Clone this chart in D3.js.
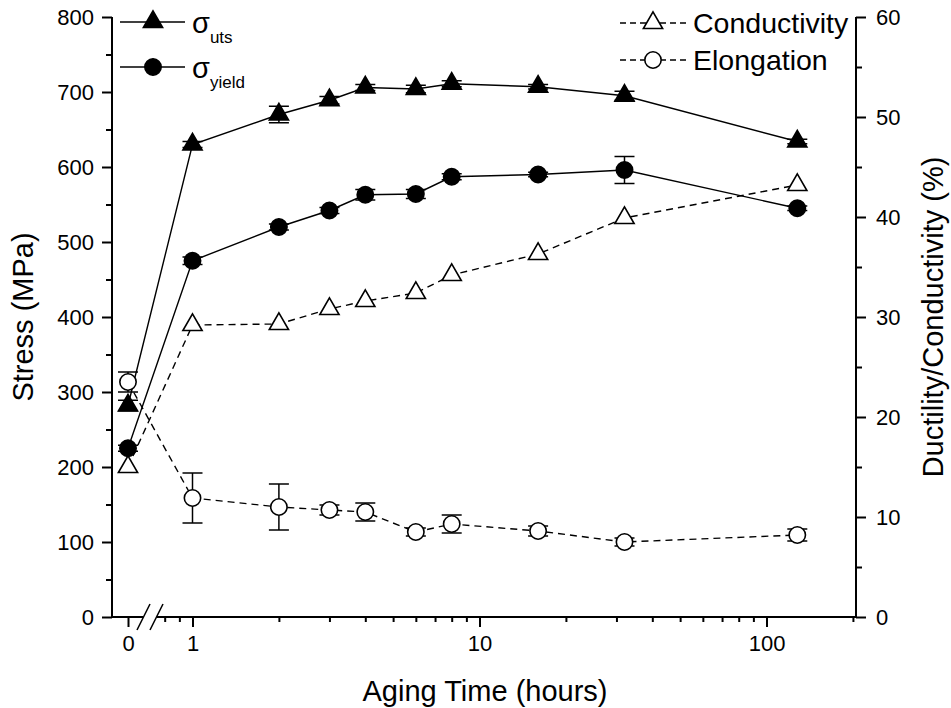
<!DOCTYPE html>
<html>
<head>
<meta charset="utf-8">
<script src="https://cdn.jsdelivr.net/npm/d3@7"></script>
<style>
  body { margin: 0; background: #fff; }
  svg { display: block; font-family: "Liberation Sans", Arial, sans-serif; }
</style>
</head>
<body>
<svg id="chart" width="951" height="708"></svg>
<script>
// data
const hours = [0, 1, 2, 3, 4, 6, 8, 16, 32, 128];
const utsVals = [282, 630, 670, 689, 706, 704, 711, 707, 695, 634];
const utsErr = [7, 4, 11, 5, 4, 5, 4, 3, 6, 3];
const yieldVals = [225, 475, 520, 542, 563, 564, 587, 590, 596, 545];
const yieldErr = [4, 5, 4, 4, 7, 6, 4, 3, 18, 3];
const condVals = [15.0, 29.2, 29.3, 30.8, 31.6, 32.4, 34.2, 36.3, 39.9, 43.2];
const elongVals = [23.5, 11.9, 11.0, 10.7, 10.5, 8.5, 9.3, 8.6, 7.5, 8.2];
const elongErr = [1.0, 2.5, 2.3, 0.5, 0.9, 0.4, 0.9, 0.5, 0.4, 0.6];

const stressTicks = [0, 100, 200, 300, 400, 500, 600, 700, 800];
const stressMinor = [50, 150, 250, 350, 450, 550, 650, 750];
const pctTicks = [0, 10, 20, 30, 40, 50, 60];
const pctMinor = [5, 15, 25, 35, 45, 55];
const timeTicks = [1, 10, 100];
const timeMinor = [0.8, 0.9, 2, 3, 4, 5, 6, 7, 8, 9, 20, 30, 40, 50, 60, 70, 80, 90, 200];

const svg = d3.select('#chart');

const yL = d3.scaleLinear().domain([0, 800]).range([617, 17]);
const yR = d3.scaleLinear().domain([0, 60]).range([617, 17]);
const xLog = d3.scaleLog().domain([1, 205]).range([192.5, 856]);
const xZero = d3.scaleLinear().domain([-1, 1]).range([112, 144]);

function xPos(h) {
  return h === 0 ? xZero(0) : xLog(h);
}

const plotLeft = 112, plotRight = 856, plotBottom = 617, plotTop = 17;

// axes
function styleAxis(g) {
  g.select('.domain').remove();
  g.selectAll('line').attr('stroke', '#000').attr('stroke-width', 2);
  g.selectAll('text').attr('font-size', 22).attr('fill', '#000')
    .attr('font-family', '"Liberation Sans", Arial, sans-serif');
}

svg.append('g').attr('transform', `translate(${plotLeft},0)`)
  .call(d3.axisLeft(yL).tickValues(stressTicks).tickSize(10).tickPadding(8))
  .call(styleAxis);
svg.append('g').attr('transform', `translate(${plotLeft},0)`)
  .call(d3.axisLeft(yL).tickValues(stressMinor).tickSize(6).tickFormat(''))
  .call(styleAxis);

svg.append('g').attr('transform', `translate(${plotRight},0)`)
  .call(d3.axisRight(yR).tickValues(pctTicks).tickSize(10).tickPadding(10))
  .call(styleAxis);
svg.append('g').attr('transform', `translate(${plotRight},0)`)
  .call(d3.axisRight(yR).tickValues(pctMinor).tickSize(6).tickFormat(''))
  .call(styleAxis);

svg.append('g').attr('transform', `translate(0,${plotBottom})`)
  .call(d3.axisBottom(xLog).tickValues(timeTicks).tickSize(10).tickPadding(8).tickFormat(d3.format('d')))
  .call(styleAxis);
svg.append('g').attr('transform', `translate(0,${plotBottom})`)
  .call(d3.axisBottom(xLog).tickValues(timeMinor).tickSize(5).tickFormat(''))
  .call(styleAxis);
svg.append('g').attr('transform', `translate(0,${plotBottom})`)
  .call(d3.axisBottom(xZero).tickValues([0]).tickSize(10).tickPadding(8).tickFormat(d3.format('d')))
  .call(styleAxis);

// axis lines, bottom one broken
const axisLines = [
  [plotLeft, plotTop, plotLeft, plotBottom + 1],
  [plotRight, plotTop, plotRight, plotBottom + 1],
  [plotLeft - 1, plotBottom, 143.5, plotBottom],
  [156.5, plotBottom, plotRight + 1, plotBottom]
];
svg.selectAll('.axline').data(axisLines).enter().append('line')
  .attr('x1', d => d[0]).attr('y1', d => d[1]).attr('x2', d => d[2]).attr('y2', d => d[3])
  .attr('stroke', '#000').attr('stroke-width', 2);

// break marks
[137, 150].forEach(bx => {
  svg.append('line')
    .attr('x1', bx).attr('y1', plotBottom + 13).attr('x2', bx + 13).attr('y2', plotBottom - 13)
    .attr('stroke', '#000').attr('stroke-width', 1.5);
});

// titles
svg.append('text').attr('transform', 'translate(33,317) rotate(-90)')
  .attr('text-anchor', 'middle').attr('font-size', 29).text('Stress (MPa)');
svg.append('text').attr('transform', 'translate(943,317) rotate(-90)')
  .attr('text-anchor', 'middle').attr('font-size', 29).text('Ductility/Conductivity (%)');
svg.append('text').attr('x', 485).attr('y', 701)
  .attr('text-anchor', 'middle').attr('font-size', 29).text('Aging Time (hours)');

// series
const series = [
  { vals: utsVals, err: utsErr, y: yL, shape: 'tri', fill: '#000', dash: null },
  { vals: yieldVals, err: yieldErr, y: yL, shape: 'circ', fill: '#000', dash: null },
  { vals: condVals, err: null, y: yR, shape: 'tri', fill: '#fff', dash: '7,5' },
  { vals: elongVals, err: elongErr, y: yR, shape: 'circ', fill: '#fff', dash: '7,5' }
];

const triSym = d3.symbol().type(d3.symbolTriangle).size(160);
const circSym = d3.symbol().type(d3.symbolCircle).size(210);

series.forEach(s => {
  const pts = hours.map((h, i) => ({ h: h, v: s.vals[i] }));
  const line = d3.line().x(d => xPos(d.h)).y(d => s.y(d.v));
  svg.append('path').datum(pts)
    .attr('d', line).attr('fill', 'none').attr('stroke', '#000')
    .attr('stroke-width', 1.4).attr('stroke-dasharray', s.dash);
});

series.forEach(s => {
  if (!s.err) return;
  const pts = hours.map((h, i) => ({ h: h, v: s.vals[i], e: s.err[i] }));
  const g = svg.append('g').attr('stroke', '#000').attr('stroke-width', 1.5);
  pts.forEach(d => {
    const x = xPos(d.h), y1 = s.y(d.v - d.e), y2 = s.y(d.v + d.e);
    g.append('line').attr('x1', x).attr('x2', x).attr('y1', y1).attr('y2', y2);
    g.append('line').attr('x1', x - 10).attr('x2', x + 10).attr('y1', y1).attr('y2', y1);
    g.append('line').attr('x1', x - 10).attr('x2', x + 10).attr('y1', y2).attr('y2', y2);
  });
});

series.forEach(s => {
  const pts = hours.map((h, i) => ({ h: h, v: s.vals[i] }));
  svg.append('g').selectAll('path').data(pts).enter().append('path')
    .attr('d', s.shape === 'tri' ? triSym : circSym)
    .attr('transform', d => `translate(${xPos(d.h)},${s.y(d.v)})`)
    .attr('fill', s.fill).attr('stroke', '#000').attr('stroke-width', 1.6);
});

// legend, top left
const legL = [
  { y: 22, shape: 'tri', sub: 'uts' },
  { y: 67, shape: 'circ', sub: 'yield' }
];
legL.forEach(l => {
  svg.append('line').attr('x1', 120).attr('x2', 185).attr('y1', l.y).attr('y2', l.y)
    .attr('stroke', '#000').attr('stroke-width', 1.4);
  svg.append('path').attr('d', l.shape === 'tri' ? triSym : circSym)
    .attr('transform', `translate(153,${l.y})`).attr('fill', '#000')
    .attr('stroke', '#000').attr('stroke-width', 1.6);
  const t = svg.append('text').attr('x', 192).attr('y', l.y + 11).attr('font-size', 29);
  t.append('tspan').text('σ');
  t.append('tspan').attr('font-size', 17).attr('dy', 10).text(l.sub);
});

// legend, top right
const legR = [
  { y: 23, shape: 'tri', label: 'Conductivity' },
  { y: 60, shape: 'circ', label: 'Elongation' }
];
legR.forEach(l => {
  svg.append('line').attr('x1', 620).attr('x2', 686).attr('y1', l.y).attr('y2', l.y)
    .attr('stroke', '#000').attr('stroke-width', 1.4).attr('stroke-dasharray', '6,4');
  svg.append('path').attr('d', l.shape === 'tri' ? triSym : circSym)
    .attr('transform', `translate(653,${l.y})`).attr('fill', '#fff')
    .attr('stroke', '#000').attr('stroke-width', 1.6);
  svg.append('text').attr('x', 693).attr('y', l.y + 10).attr('font-size', 28.5).text(l.label);
});
</script>
</body>
</html>
